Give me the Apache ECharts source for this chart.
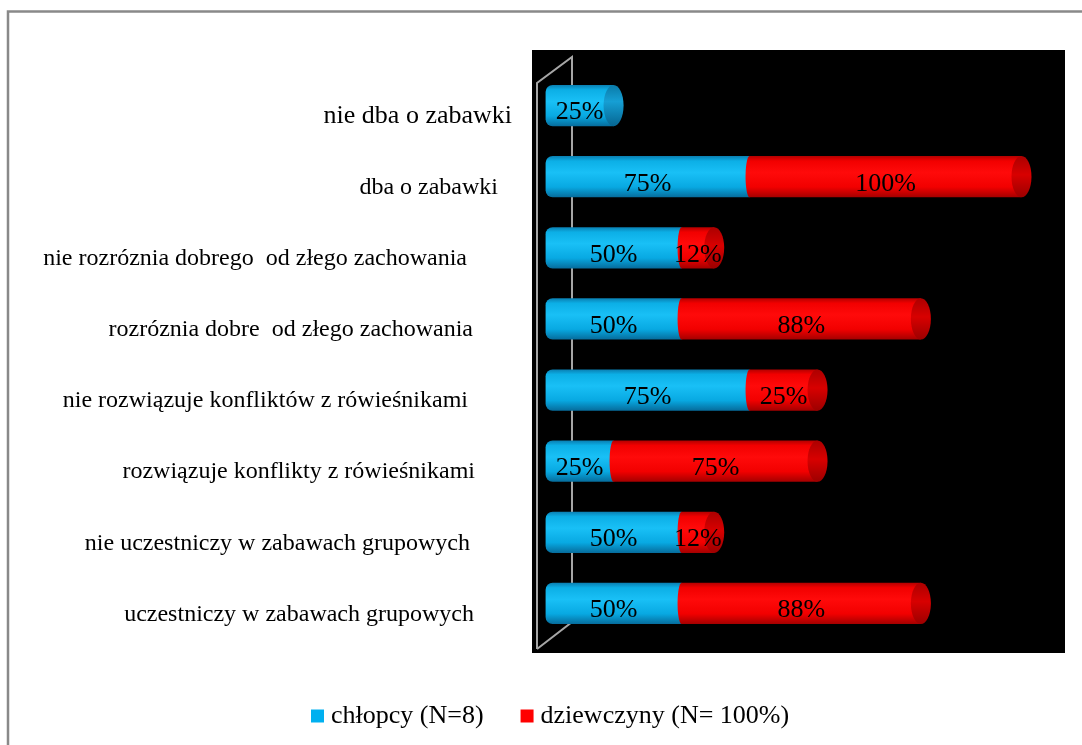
<!DOCTYPE html>
<html>
<head>
<meta charset="utf-8">
<script src="https://cdn.jsdelivr.net/npm/echarts@6/dist/echarts.min.js"></script>
<style>
  html, body { margin: 0; padding: 0; background: #fff; }
  #chart { width: 1082px; height: 745px; }
</style>
</head>
<body>
<div id="chart"></div>
<script>
// kategorie od góry do dołu
const categories = [
  'nie dba o zabawki',
  'dba o zabawki',
  'nie rozróznia dobrego  od złego zachowania',
  'rozróznia dobre  od złego zachowania',
  'nie rozwiązuje konfliktów z rówieśnikami',
  'rozwiązuje konflikty z rówieśnikami',
  'nie uczestniczy w zabawach grupowych',
  'uczestniczy w zabawach grupowych'
];
const seriesNames = ['chłopcy (N=8)', 'dziewczyny (N= 100%)'];
const boys = [25, 75, 50, 50, 75, 25, 50, 50];
const girls = [0, 100, 12, 88, 25, 75, 12, 88];

// odstęp etykiet od osi i rozmiar czcionki (styl, nie dane)
const labelGap = [20, 34, 65, 59, 64, 57, 62, 58];
const labelSize = [26, 24, 24, 24, 24, 24, 24, 24];

const FONT = '"Liberation Serif", "Times New Roman", serif';

const palette = {
  blue: {
    base: '#00b0f0',
    body: [
      { offset: 0, color: '#0a7fb2' },
      { offset: 0.12, color: '#0cafe6' },
      { offset: 0.4, color: '#19c0f6' },
      { offset: 0.75, color: '#08a9e2' },
      { offset: 1, color: '#066c9c' }
    ],
    cap: [
      { offset: 0, color: '#0a7aa8' },
      { offset: 0.4, color: '#169fd4' },
      { offset: 1, color: '#066692' }
    ]
  },
  red: {
    base: '#ff0000',
    body: [
      { offset: 0, color: '#b40000' },
      { offset: 0.12, color: '#f20000' },
      { offset: 0.4, color: '#ff0a0a' },
      { offset: 0.75, color: '#f20000' },
      { offset: 1, color: '#a40000' }
    ],
    cap: [
      { offset: 0, color: '#ac0000' },
      { offset: 0.45, color: '#d80000' },
      { offset: 1, color: '#9c0000' }
    ]
  }
};

function grad(stops) {
  return new echarts.graphic.LinearGradient(0, 0, 0, 1, stops);
}

// [wartość, indeks kategorii, początek, czy ostatni]
function buildData(values, starts, others) {
  return values.map((v, i) => [v, i, starts[i], others ? (others[i] === 0) : true]);
}
const boysData = buildData(boys, boys.map(() => 0), girls);
const girlsData = buildData(girls, boys, null);

function makeRender(colors, first) {
  return function (params, api) {
    const value = api.value(0);
    if (!value) return null;
    const cat = api.value(1);
    const start = api.value(2);
    const isLast = api.value(3);
    const p0 = api.coord([start, cat]);
    const p1 = api.coord([start + value, cat]);
    const h = api.size([0, 1])[1] * 0.58;
    const y = p0[1] - h / 2;
    const children = [];
    if (!first) {
      children.push({
        type: 'ellipse',
        shape: { cx: p0[0], cy: p0[1], rx: 4, ry: h / 2 },
        style: { fill: grad(colors.body) }
      });
    }
    children.push({
      type: 'rect',
      shape: { x: p0[0], y: y, width: p1[0] - p0[0], height: h, r: first ? [7, 0, 0, 7] : 0 },
      style: { fill: grad(colors.body) }
    });
    if (isLast) {
      children.push({
        type: 'ellipse',
        shape: { cx: p1[0], cy: p1[1], rx: 10, ry: h / 2 },
        style: { fill: grad(colors.cap) }
      });
    }
    children.push({
      type: 'text',
      z2: 10,
      style: {
        text: value + '%',
        x: (p0[0] + p1[0]) / 2,
        y: p0[1] + 7,
        align: 'center',
        verticalAlign: 'middle',
        font: '26px ' + FONT,
        fill: '#000'
      }
    });
    return { type: 'group', children: children };
  };
}

const rich = {};
labelGap.forEach((g, i) => {
  rich['r' + i] = { fontFamily: FONT, fontSize: labelSize[i], color: '#000', padding: [0, g, 0, 0] };
});

const chart = echarts.init(document.getElementById('chart'));

const option = {
  backgroundColor: '#fff',
  animation: false,
  graphic: [
    {
      type: 'rect',
      z: 0,
      shape: { x: 8, y: 11.5, width: 1100, height: 780 },
      style: { fill: 'none', stroke: '#898989', lineWidth: 2.5 }
    },
    {
      type: 'rect',
      z: 0,
      shape: { x: 532, y: 50, width: 533, height: 603 },
      style: { fill: '#000' }
    },
    {
      // ściana 3D
      type: 'polyline',
      z: 1,
      shape: { points: [[537, 649], [537, 83], [572, 57], [572, 622], [537, 649]] },
      style: { fill: 'none', stroke: '#a6a6a6', lineWidth: 2 }
    }
  ],
  legend: {
    data: seriesNames,
    left: 311,
    top: 703,
    padding: 0,
    icon: 'rect',
    itemWidth: 13,
    itemHeight: 13,
    itemGap: 37,
    textStyle: { fontFamily: FONT, fontSize: 26, color: '#000', padding: [0, 0, 0, 2] }
  },
  grid: {
    left: 532,
    right: 17,
    top: 70,
    bottom: 106
  },
  xAxis: {
    type: 'value',
    min: -5,
    max: 191,
    show: false
  },
  yAxis: {
    type: 'category',
    inverse: true,
    data: categories,
    axisLine: { show: false },
    axisTick: { show: false },
    splitLine: { show: false },
    axisLabel: {
      margin: 0,
      padding: [22, 0, 0, 0],
      fontFamily: FONT,
      fontSize: 24,
      color: '#000',
      formatter: (v, i) => '{r' + i + '|' + v + '}',
      rich: rich
    }
  },
  series: [
    {
      name: seriesNames[0],
      type: 'custom',
      z: 3,
      itemStyle: { color: palette.blue.base },
      renderItem: makeRender(palette.blue, true),
      encode: { x: [0, 2], y: 1 },
      data: boysData
    },
    {
      name: seriesNames[1],
      type: 'custom',
      z: 3,
      itemStyle: { color: palette.red.base },
      renderItem: makeRender(palette.red, false),
      encode: { x: [0, 2], y: 1 },
      data: girlsData
    }
  ]
};

chart.setOption(option);
window.addEventListener('resize', chart.resize);
</script>
</body>
</html>
